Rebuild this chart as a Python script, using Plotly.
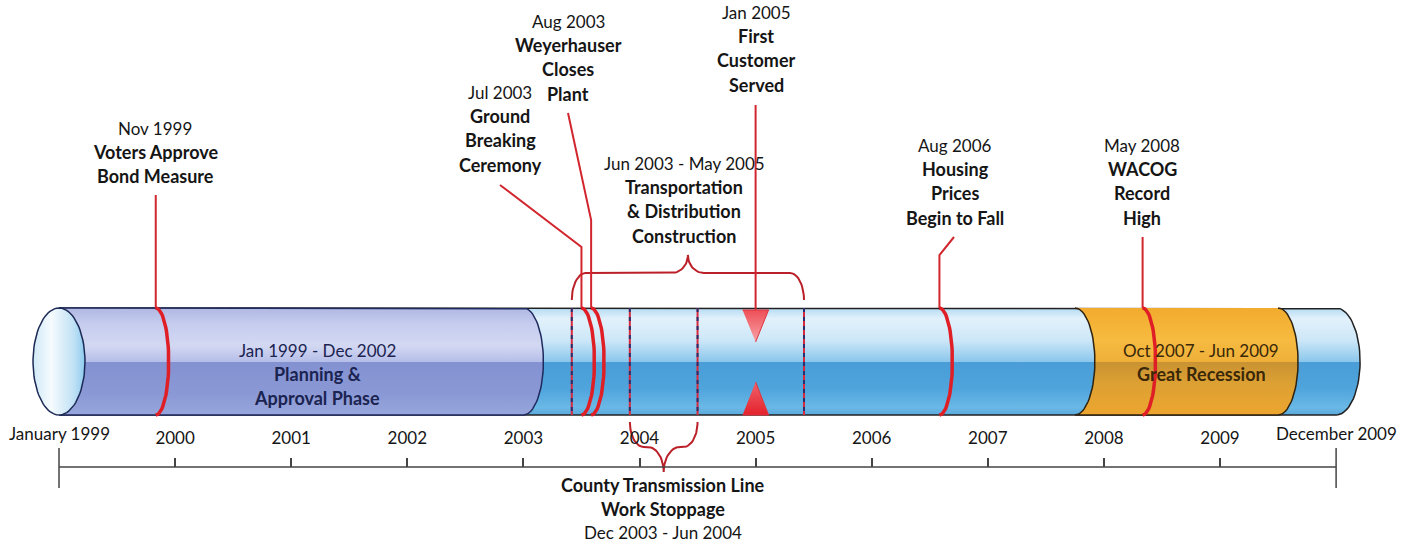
import numpy as np
import plotly.graph_objects as go

MONTHS = ["Jan", "Feb", "Mar", "Apr", "May", "Jun",
          "Jul", "Aug", "Sep", "Oct", "Nov", "Dec"]

# --- data -------------------------------------------------------------
TIMELINE_START = (1999, 1)
TIMELINE_END = (2009, 12)
YEAR_TICKS = [2000, 2001, 2002, 2003, 2004, 2005, 2006, 2007, 2008, 2009]

EVENT_DATES = [(1999, 11), (2003, 7), (2003, 8), (2005, 1), (2006, 8), (2008, 5)]
EVENT_TEXT = [
    ["Voters Approve", "Bond Measure"],
    ["Ground", "Breaking", "Ceremony"],
    ["Weyerhauser", "Closes", "Plant"],
    ["First", "Customer", "Served"],
    ["Housing", "Prices", "Begin to Fall"],
    ["WACOG", "Record", "High"],
]

PERIOD_START = [(1999, 1), (2003, 6), (2003, 12), (2007, 10)]
PERIOD_END = [(2002, 12), (2005, 5), (2004, 6), (2009, 6)]
PERIOD_TEXT = [
    ["Planning &", "Approval Phase"],
    ["Transportation", "& Distribution", "Construction"],
    ["County Transmission Line", "Work Stoppage"],
    ["Great Recession"],
]

# --- layout constants (pixels) ------------------------------------------
W, H = 1402, 546
PX_PER_YEAR = 116.1
X0_PX = 59                      # where Jan 1999 sits
TOP, BOT = 308, 415             # tube
MID = (TOP + BOT) / 2
HALF = (BOT - TOP) / 2
AXIS_Y = 467
FONT = "Lato"
BOLD_SIZE = 18
REG_SIZE = 17
RED = "#e01e26"
LEAD = "#d2262e"


def t0(d):
    return d[0] + (d[1] - 1) / 12


def t1(d):
    return d[0] + d[1] / 12


def px(n):
    return n / PX_PER_YEAR


def at(p):
    return 1999 + (p - X0_PX) / PX_PER_YEAR


def label(d):
    return f"{MONTHS[d[1] - 1]} {d[0]}"


def arc(x, rx, n=40):
    t = np.linspace(0, np.pi, n)
    return x + px(rx) * np.sin(t), MID - HALF * np.cos(t)


def brace(xa, xb, y_end, y_bar, y_tip, rx1, rx2, n=16):
    xm = (xa + xb) / 2
    t = np.linspace(0, np.pi / 2, n)
    x1 = xa + px(rx1) * (1 - np.cos(t))
    y1 = y_end + (y_bar - y_end) * np.sin(t)
    x2 = xm - px(rx2) + px(rx2) * np.sin(t)
    y2 = y_bar + (y_tip - y_bar) * (1 - np.cos(t))
    xl = np.concatenate([x1, x2])
    yl = np.concatenate([y1, y2])
    return np.concatenate([xl, (2 * xm - xl)[::-1]]), np.concatenate([yl, yl[::-1]])


fig = go.Figure()


def poly(xs, ys, scale, line_color, gtype="vertical", start=TOP, stop=BOT, width=1.5):
    fig.add_trace(go.Scatter(
        x=list(xs), y=list(ys), mode="lines", fill="toself",
        fillgradient=dict(type=gtype, colorscale=scale, start=start, stop=stop),
        line=dict(color=line_color, width=width), hoverinfo="skip",
    ))


def path(xs, ys, color, width=2, dash="solid"):
    fig.add_trace(go.Scatter(
        x=list(xs), y=list(ys), mode="lines",
        line=dict(color=color, width=width, dash=dash), hoverinfo="skip",
    ))


def text_lines(x, y, lines, bold, color="#151515", step=24.2):
    for i, (s, b) in enumerate(zip(lines, bold)):
        fig.add_annotation(
            x=x, y=y + i * step, text=f"<b>{s}</b>" if b else s, showarrow=False,
            xanchor="center", yanchor="middle",
            font=dict(family=FONT, size=BOLD_SIZE if b else REG_SIZE, color=color),
        )


xs_tl, xe_tl = t0(TIMELINE_START), t1(TIMELINE_END)

# tube body
ax, ay = arc(xe_tl, 24)
poly([xs_tl, *ax, xs_tl], [TOP, *ay, BOT],
     [[0, "#b4dbf3"], [0.1, "#e2f1fb"], [0.3, "#cde7f8"], [0.5, "#8cc7ec"],
      [0.5, "#4a9dd6"], [0.75, "#4fa4dc"], [0.93, "#6ab8e6"], [1, "#5aa9dc"]],
     "#222222")

# planning segment
ax, ay = arc(t1(PERIOD_END[0]), 20)
poly([xs_tl, *ax, xs_tl], [TOP, *ay, BOT],
     [[0, "#b0b8e3"], [0.15, "#c5ccee"], [0.35, "#d3d8f2"], [0.5, "#b6bfe9"],
      [0.5, "#8391d1"], [0.8, "#8a99d5"], [1, "#97a6dc"]],
     "#1f2a5e")

# recession segment
lx, ly = arc(t0(PERIOD_START[3]), 20)
rx_, ry_ = arc(t1(PERIOD_END[3]), 20)
poly([*lx, *rx_[::-1]], [*ly, *ry_[::-1]],
     [[0, "#f2ab2e"], [0.3, "#f6bb40"], [0.5, "#efb03a"],
      [0.5, "#c89233"], [0.7, "#dca033"], [1, "#eda62f"]],
     "#2e2210")

# left end cap
t = np.linspace(0, 2 * np.pi, 80)
poly(xs_tl + px(26) * np.cos(t), MID + HALF * np.sin(t),
     [[0, "#cfe9f7"], [0.35, "#f6fbfe"], [0.8, "#bde0f4"], [1, "#8ccaee"]],
     "#1c2a55", gtype="horizontal", start=xs_tl - px(26), stop=xs_tl + px(26))

# range boundaries (dashed)
for i in (1, 2):
    for x in (t0(PERIOD_START[i]), t1(PERIOD_END[i])):
        path([x, x], [TOP, BOT], "#d8283c", 2)
        path([x, x], [TOP, BOT], "#2a2f6e", 2, "4px,5px")

# braces
bx, by = brace(t0(PERIOD_START[1]), t1(PERIOD_END[1]), 300, 273, 255, 14, 16)
path(bx, by, "#bb2029", 2)
bx, by = brace(t0(PERIOD_START[2]), t1(PERIOD_END[2]), 422, 447, 472, 14, 16)
path(bx, by, "#bb2029", 2)

# event marks
LABEL_POS = [(155, 128), (500, 92), (568, 21), (756, 12), (955, 145), (1142, 145)]
LEADER_START = [(None, 195), (500, 185), (568, 113), (None, 105), (954, 237), (None, 237)]
LEADER_ELBOW = [None, 247, 220, None, 255, None]

for d, lines, (lxp, lyp), (sx, sy), elb in zip(EVENT_DATES, EVENT_TEXT, LABEL_POS,
                                                 LEADER_START, LEADER_ELBOW):
    ex = t0(d)
    text_lines(at(lxp), lyp, [label(d)] + lines, [False] + [True] * len(lines))
    if d == (2005, 1):
        path([ex, ex], [sy, TOP + 2], LEAD, 2)
        fig.add_trace(go.Scatter(
            x=[ex - px(13), ex + px(13), ex], y=[TOP + 2, TOP + 2, 342], mode="lines",
            fill="toself", line=dict(color="#e0343c", width=1),
            fillgradient=dict(type="vertical", start=TOP, stop=342,
                              colorscale=[[0, "#ee4a52"], [1, "#f7a3a8"]]),
            hoverinfo="skip"))
        fig.add_trace(go.Scatter(
            x=[ex - px(13), ex + px(13), ex], y=[BOT, BOT, 382], mode="lines",
            fill="toself", line=dict(color="#e0343c", width=1),
            fillgradient=dict(type="vertical", start=382, stop=BOT,
                              colorscale=[[0, "#f0626a"], [1, "#e4222c"]]),
            hoverinfo="skip"))
        continue
    x_start = ex if sx is None else at(sx)
    if elb is None:
        path([x_start, ex], [sy, TOP], LEAD, 2)
    else:
        path([x_start, ex, ex], [sy, elb, TOP], LEAD, 2)
    ax, ay = arc(ex, 13)
    path(ax, ay, RED, 3.5)

# period captions
CAPTION_POS = [(317, 350), (684, 163), (663, 485), (1201, 350)]
CAPTION_COLOR = ["#1b2350", "#151515", "#151515", "#3a2808"]
for i, (cx, cy) in enumerate(CAPTION_POS):
    rng = f"{label(PERIOD_START[i])} - {label(PERIOD_END[i])}"
    body = PERIOD_TEXT[i]
    if i == 2:
        text_lines(at(cx), cy, body + [rng], [True] * len(body) + [False],
                   color=CAPTION_COLOR[i], step=23.5)
    else:
        text_lines(at(cx), cy, [rng] + body, [False] + [True] * len(body),
                   color=CAPTION_COLOR[i])

# time axis
path([xs_tl, xe_tl], [AXIS_Y, AXIS_Y], "#444444", 1.5)
for x in (xs_tl, xe_tl):
    path([x, x], [448, 488], "#444444", 1.5)
fig.add_annotation(x=xs_tl, y=433, text="January 1999", showarrow=False,
                   font=dict(family=FONT, size=REG_SIZE, color="#151515"))
fig.add_annotation(x=xe_tl, y=433, text="December 2009", showarrow=False,
                   font=dict(family=FONT, size=REG_SIZE, color="#151515"))

fig.update_layout(
    width=W, height=H,
    margin=dict(l=0, r=0, t=0, b=0),
    paper_bgcolor="white", plot_bgcolor="white",
    showlegend=False,
    xaxis=dict(
        range=[at(0), at(W)], side="top", anchor="free",
        position=(H - AXIS_Y) / H,
        showgrid=False, zeroline=False, showline=False,
        ticks="outside", ticklen=9, tickwidth=1.5, tickcolor="#444444",
        tickvals=YEAR_TICKS, ticktext=[str(y) for y in YEAR_TICKS],
        tickfont=dict(family=FONT, size=REG_SIZE, color="#151515"),
        ticklabelstandoff=7, fixedrange=True,
    ),
    yaxis=dict(range=[H, 0], visible=False, fixedrange=True),
)

fig.write_html("out.html", config={"displayModeBar": False},
               post_script="document.body.style.margin='0';")
